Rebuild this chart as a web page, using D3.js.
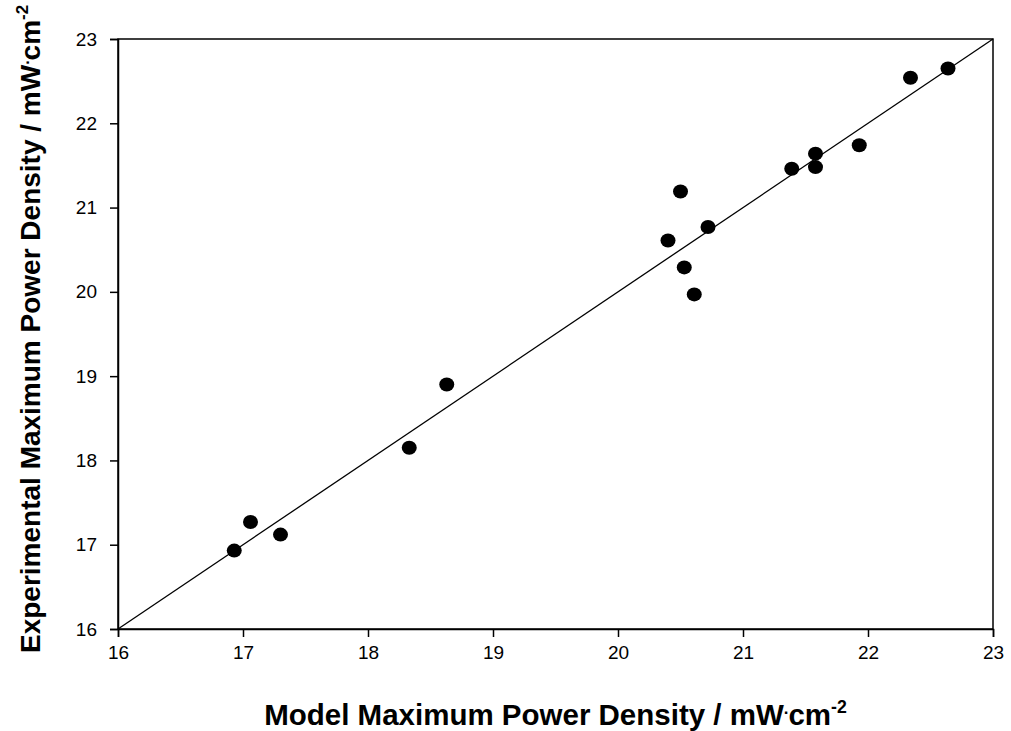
<!DOCTYPE html>
<html>
<head>
<meta charset="utf-8">
<script src="https://cdn.jsdelivr.net/npm/d3@7"></script>
<style>
  body { margin: 0; background: #fff; }
  svg { font-family: "Liberation Sans", Arial, sans-serif; }
  .tick text { font-size: 19px; }
</style>
</head>
<body>
<div id="chart"></div>
<script>
// model vs experimental max power density (mW/cm2)
const modelValues = [16.93, 17.06, 17.30, 18.33, 18.63, 20.40, 20.50, 20.53, 20.61, 20.72,
                     21.39, 21.58, 21.58, 21.93, 22.34, 22.64];
const expValues   = [16.93, 17.27, 17.12, 18.15, 18.90, 20.61, 21.19, 20.29, 19.97, 20.77,
                     21.46, 21.64, 21.48, 21.74, 22.54, 22.65];
const xTicks = [16, 17, 18, 19, 20, 21, 22, 23];
const yTicks = [16, 17, 18, 19, 20, 21, 22, 23];
const unityLine = [16, 23];

const width = 1011, height = 731;
const margin = {left: 118, top: 39, right: 18, bottom: 102};

const svg = d3.select('#chart')
    .append('svg')
    .attr('width', width)
    .attr('height', height);

const x = d3.scaleLinear().domain([16, 23]).range([margin.left, width - margin.right]);
const y = d3.scaleLinear().domain([16, 23]).range([height - margin.bottom, margin.top]);

// frame
svg.append('rect')
    .attr('x', x(16)).attr('y', y(23))
    .attr('width', x(23) - x(16)).attr('height', y(16) - y(23))
    .attr('fill', 'none').attr('stroke', '#000').attr('stroke-width', 1.5);

const xAxis = svg.append('g')
    .attr('transform', `translate(0,${y(16)})`)
    .call(d3.axisBottom(x).tickValues(xTicks).tickSize(8).tickPadding(9).tickFormat(d3.format('d')));

const yAxis = svg.append('g')
    .attr('transform', `translate(${x(16)},0)`)
    .call(d3.axisLeft(y).tickValues(yTicks).tickSize(8).tickPadding(13).tickFormat(d3.format('d')));

[xAxis, yAxis].forEach(g => {
    g.attr('font-size', 19).attr('font-family', '"Liberation Sans", Arial, sans-serif');
    g.select('.domain').attr('stroke-width', 1.5);
    g.selectAll('.tick line').attr('stroke-width', 1.5);
    g.selectAll('.tick text').attr('font-size', 19).attr('fill', '#000');
});

// 1:1 line
svg.append('line')
    .attr('x1', x(unityLine[0])).attr('y1', y(unityLine[0]))
    .attr('x2', x(unityLine[1])).attr('y2', y(unityLine[1]))
    .attr('stroke', '#000').attr('stroke-width', 1.3);

// points
svg.selectAll('ellipse.pt')
    .data(modelValues.map((m, i) => ({m, e: expValues[i]})))
    .join('ellipse')
    .classed('pt', true)
    .attr('cx', d => x(d.m))
    .attr('cy', d => y(d.e))
    .attr('rx', 7.5)
    .attr('ry', 7)
    .attr('fill', '#000');

function unitLabel(sel, name, size) {
    sel.append('tspan').text(name + ' / mW');
    sel.append('tspan').attr('dy', -11).style('font-size', (size * 0.57) + 'px').text('.');
    sel.append('tspan').attr('dy', 11).text('cm');
    sel.append('tspan').attr('dy', -12).style('font-size', (size * 0.6) + 'px').text('-2');
}

svg.append('text')
    .attr('x', (x(16) + x(23)) / 2)
    .attr('y', 725)
    .attr('text-anchor', 'middle')
    .style('font-size', '29.5px')
    .style('font-weight', 'bold')
    .call(unitLabel, 'Model Maximum Power Density', 29.5);

svg.append('text')
    .attr('transform', `translate(40,${(y(16) + y(23)) / 2 - 5}) rotate(-90)`)
    .attr('text-anchor', 'middle')
    .style('font-size', '28px')
    .style('font-weight', 'bold')
    .call(unitLabel, 'Experimental Maximum Power Density', 28);
</script>
</body>
</html>
